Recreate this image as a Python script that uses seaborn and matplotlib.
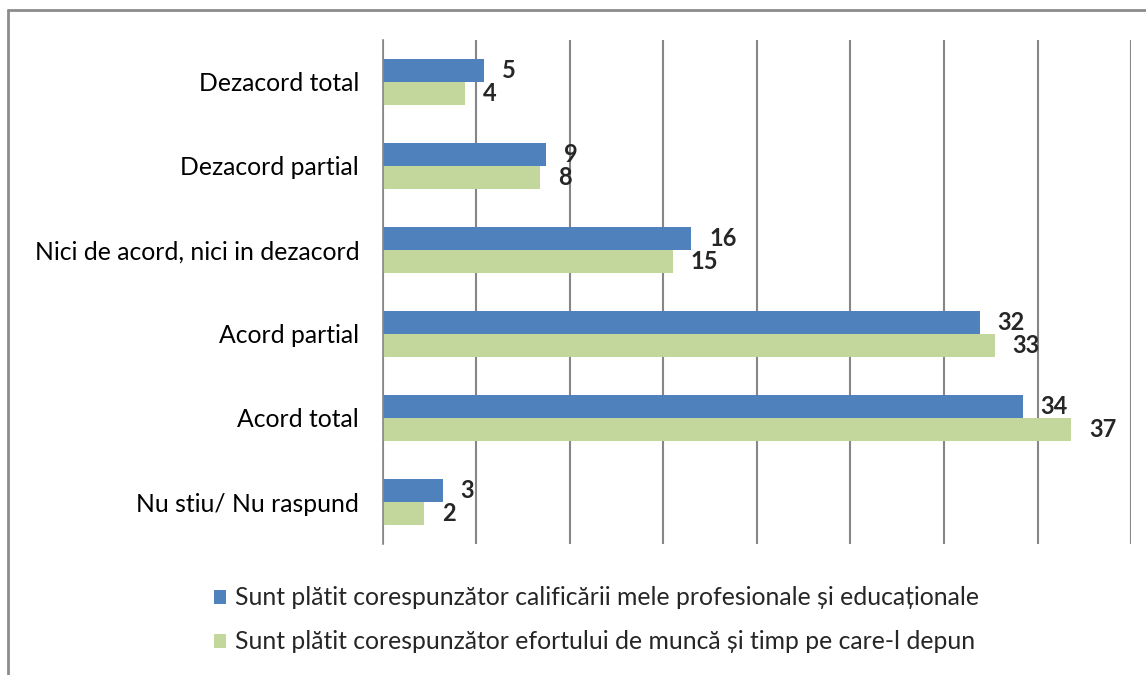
import pandas as pd
import seaborn as sns
import matplotlib.pyplot as plt
from matplotlib.lines import Line2D

# Data (percent)
categories = ['Dezacord total', 'Dezacord partial', 'Nici de acord, nici in dezacord',
              'Acord partial', 'Acord total', 'Nu stiu/ Nu raspund']
series_names = ['Sunt plătit corespunzător calificării mele profesionale și educaționale',
                'Sunt plătit corespunzător efortului de muncă și timp pe care-l depun']
calificare = [5.4, 8.7, 16.5, 31.9, 34.2, 3.2]
efort = [4.4, 8.4, 15.5, 32.7, 36.8, 2.2]
calificare_labels = ['5', '9', '16', '32', '34', '3']
efort_labels = ['4', '8', '15', '33', '37', '2']

data = pd.DataFrame({
    'categorie': categories * 2,
    'serie': [series_names[0]] * len(categories) + [series_names[1]] * len(categories),
    'valoare': calificare + efort,
})

sns.set_style('white')
plt.rcParams['font.family'] = ['Lato', 'DejaVu Sans']

fig = plt.figure(figsize=(11.46, 6.75), dpi=100)
ax = fig.add_axes([0.334, 0.194, 0.653, 0.747])

sns.barplot(data=data, x='valoare', y='categorie', hue='serie', orient='h',
            palette=['#4F81BD', '#C3D69B'], saturation=1, width=0.55,
            linewidth=0, ax=ax, legend=True)

# value labels
for cont, labs in zip(ax.containers, [calificare_labels, efort_labels]):
    ax.bar_label(cont, labels=labs, padding=13, fontsize=17, fontweight='bold')

ax.set_xlim(0, 40)
ax.set_ylim(5.5, -0.5)
ax.set_xticks(range(0, 45, 5))
ax.set_xticklabels([])
ax.tick_params(axis='x', length=0)
ax.grid(axis='x', color='#868686', linewidth=1.5)
ax.set_axisbelow(True)
ax.set_xlabel('')
ax.set_ylabel('')

# category labels with boundary tick marks
ax.tick_params(axis='y', which='major', length=0, pad=17, labelsize=17.8, labelcolor='black')
ax.set_yticks([i - 0.5 for i in range(len(categories) + 1)], minor=True)
ax.tick_params(axis='y', which='minor', length=6, width=1.2, color='#868686', direction='out')

for side in ['top', 'right', 'bottom']:
    ax.spines[side].set_visible(False)
ax.spines['left'].set_color('#868686')
ax.spines['left'].set_linewidth(1.2)

# legend below the plot
handles, labels = ax.get_legend_handles_labels()
ax.legend_.remove()
fig.legend(handles, labels, loc='upper left', bbox_to_anchor=(0.178, 0.146),
           frameon=False, fontsize=17.8, handlelength=0.5, handleheight=0.5,
           handletextpad=0.36, labelspacing=0.85, borderaxespad=0)

# outer frame (top and left edges visible)
fig.add_artist(Line2D([8 / 1146, 1], [1 - 10 / 675] * 2, color='#8c8c8c', linewidth=2))
fig.add_artist(Line2D([8 / 1146] * 2, [0, 1 - 10 / 675], color='#8c8c8c', linewidth=2))

fig.savefig('out.png', dpi=100)
